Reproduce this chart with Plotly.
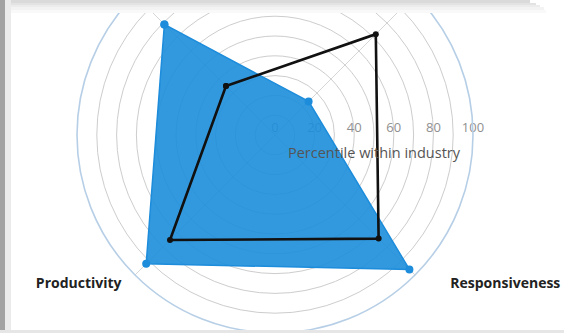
import plotly.graph_objects as go

# ---------------- data ----------------
axis_angles = [135, 45, 315, 225]          # category directions (deg): top-left, top-right, bottom-right, bottom-left
label_angles = [45, 135, 225, 315]
label_text = ["", "",
              "<b>Productivity</b>\u00a0\u00a0\u00a0<br>\u00a0",
              "\u00a0\u00a0\u00a0\u00a0\u00a0\u00a0\u00a0\u00a0\u00a0<b>Responsiveness</b><br>\u00a0"]

company_values = [79, 24, 96, 92]     # blue filled polygon
benchmark_values = [35, 72, 74, 75]   # black outline polygon

radial_tickvals = [0, 10, 20, 30, 40, 50, 60, 70, 80, 90, 100]
radial_ticktext = ["0", "", "20", "", "40", "", "60", "", "80", "", "100"]
radial_title = "Percentile within industry"

# ---------------- layout geometry ----------------
W, H, SHIFT = 564, 403, 70
CX, CY, R = 275, 135 + SHIFT, 198


def px(x):
    return x / W


def py(y):  # screen y (after shift) -> paper y
    return (H - SHIFT - y) / H


dom_x = [(CX - R) / W, (CX + R) / W]
dom_y = [(H - CY - R) / H, (H - CY + R) / H]


def closed(a):
    return list(a) + [a[0]]


fig = go.Figure()
# empty trace to anchor the base grid subplot
fig.add_trace(go.Scatterpolar(r=[], theta=[], subplot="polar", showlegend=False, hoverinfo="skip"))

fig.add_trace(go.Scatterpolar(
    r=closed(company_values), theta=closed(axis_angles), subplot="polar2",
    mode="lines+markers", fill="toself",
    fillcolor="rgba(28,142,220,0.9)",
    line=dict(color="#1c8cdb", width=1.5),
    marker=dict(color="#1c8cdb", size=8),
    showlegend=False,
))
fig.add_trace(go.Scatterpolar(
    r=closed(benchmark_values), theta=closed(axis_angles), subplot="polar2",
    mode="lines+markers",
    line=dict(color="#111111", width=2.6),
    marker=dict(color="#111111", size=6),
    showlegend=False,
))

common_ang = dict(type="linear", direction="counterclockwise", rotation=0, thetaunit="degrees")

fig.update_layout(
    width=W, height=H,
    margin=dict(l=0, r=0, t=0, b=0),
    paper_bgcolor="white",
    font=dict(family="Open Sans, DejaVu Sans, sans-serif"),
    polar=dict(
        domain=dict(x=dom_x, y=dom_y),
        bgcolor="white",
        angularaxis=dict(
            **common_ang,
            tickmode="array", tickvals=label_angles, ticktext=label_text,
            tickfont=dict(size=14, color="#222222"),
            showgrid=True, gridcolor="#d6d6d6", gridwidth=1.2,
            showline=True, linecolor="#b7cfe6", linewidth=1.6,
            ticks="",
        ),
        radialaxis=dict(
            range=[0, 100], angle=0, side="counterclockwise",
            tickmode="array", tickvals=radial_tickvals, ticktext=radial_ticktext,
            tickfont=dict(size=13, color="#8f8f8f"),
            showgrid=True, gridcolor="#cdcdcd", gridwidth=1.4,
            showline=False, ticks="", layer="below traces",
        ),
    ),
    polar2=dict(
        domain=dict(x=dom_x, y=dom_y),
        bgcolor="rgba(0,0,0,0)",
        angularaxis=dict(**common_ang, visible=False),
        radialaxis=dict(
            range=[0, 100], angle=0, side="clockwise",
            showgrid=False, showline=False, ticks="",
            tickmode="array", tickvals=[0], ticktext=["\u00a0"],
            tickfont=dict(size=8, color="rgba(0,0,0,0)"),
            title=dict(text=radial_title, font=dict(size=14.5, color="#555555")),
            layer="below traces",
        ),
    ),
)

# screenshot frame artefacts
shapes = [
    dict(x0=px(0), x1=px(5), y0=py(333), y1=py(0), fillcolor="#a2a2a2"),
    dict(x0=px(5), x1=px(11), y0=py(333), y1=py(0), fillcolor="#ebebeb"),
    dict(x0=px(0), x1=px(564), y0=py(333), y1=py(330), fillcolor="#e6e6e6"),
    dict(x0=px(11), x1=px(530), y0=py(3), y1=py(0), fillcolor="#dadada"),
    dict(x0=px(11), x1=px(536), y0=py(5), y1=py(3), fillcolor="#e3e3e3"),
    dict(x0=px(11), x1=px(540), y0=py(7), y1=py(5), fillcolor="#ececec"),
    dict(x0=px(11), x1=px(544), y0=py(10), y1=py(7), fillcolor="#f3f3f3"),
    dict(x0=px(11), x1=px(546), y0=py(13), y1=py(10), fillcolor="#f9f9f9"),
]
for s in shapes:
    fig.add_shape(type="rect", xref="paper", yref="paper", line=dict(width=0), layer="above", **s)

post = ("document.body.style.margin='0';"
        "var d=document.getElementById('{plot_id}');"
        "d.style.marginTop='-%dpx';" % SHIFT)
fig.write_html("out.html", post_script=post)
